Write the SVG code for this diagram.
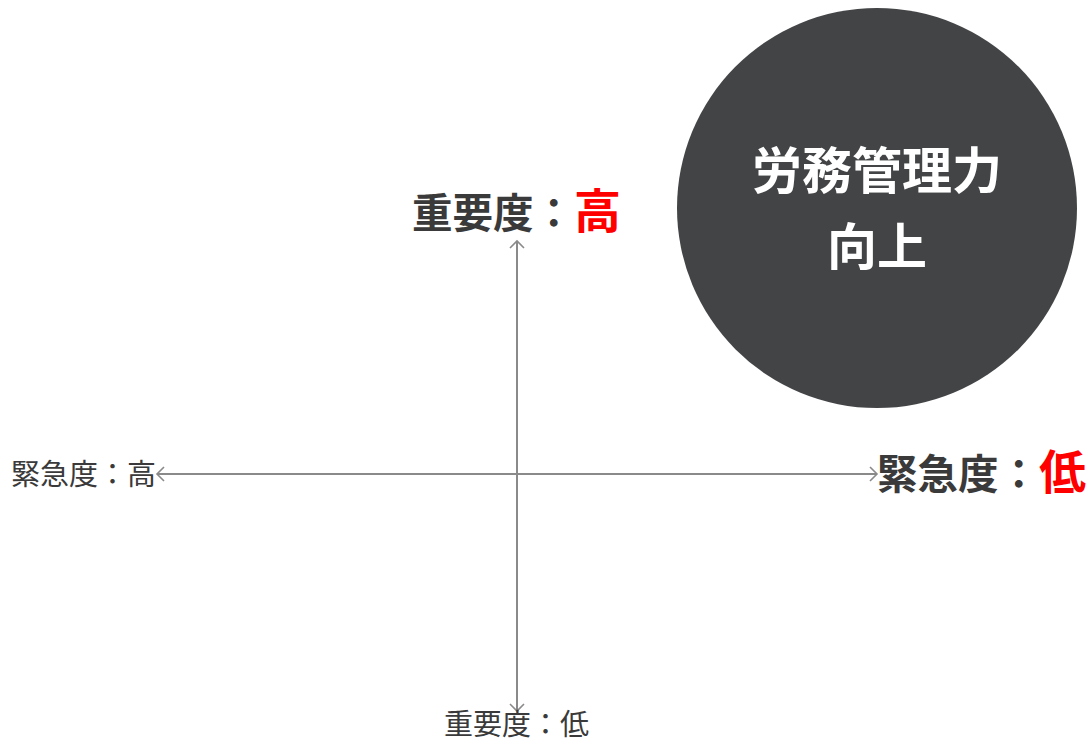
<svg xmlns="http://www.w3.org/2000/svg" width="1092" height="742" viewBox="0 0 1092 742">
<style>
text{font-family:"Noto Sans CJK JP","Noto Sans",sans-serif;}
.lbl{fill:#3a3a3a;}
.b{font-weight:bold;}
.red{fill:#ff0000;font-size:47px;}
.axis{stroke:#8a8a8a;stroke-width:2;fill:none;}
</style>
<defs>
<marker id="arr" viewBox="-9 -9 18 18" refX="0" refY="0" markerWidth="18" markerHeight="18" markerUnits="userSpaceOnUse" orient="auto-start-reverse">
<path d="M-7,-7 L0,0 L-7,7" fill="none" stroke="#8a8a8a" stroke-width="1.6"/>
</marker>
</defs>
<rect width="1092" height="742" fill="#ffffff"/>
<g id="connectors">
<line class="axis" x1="517" y1="711" x2="517" y2="241" marker-start="url(#arr)" marker-end="url(#arr)"/>
<line class="axis" x1="157" y1="474" x2="877" y2="474" marker-start="url(#arr)" marker-end="url(#arr)"/>
</g>
<g id="goal">
<circle cx="877" cy="208" r="200" fill="#434446"/>
<text x="877" y="189" text-anchor="middle" font-size="50" font-weight="bold" fill="#ffffff">労務管理力</text>
<text x="877" y="265" text-anchor="middle" font-size="50" font-weight="bold" fill="#ffffff">向上</text>
</g>
<g id="top-label">
<text x="412" y="228" font-size="40.5" class="lbl b">重要度：<tspan class="red" x="574">高</tspan></text>
</g>
<g id="bottom-label">
<text x="444" y="735" font-size="29" class="lbl">重要度：低</text>
</g>
<g id="left-label">
<text x="11" y="485" font-size="29" class="lbl">緊急度：高</text>
</g>
<g id="right-label">
<text x="877" y="489" font-size="40.5" class="lbl b">緊急度：<tspan class="red" x="1039">低</tspan></text>
</g>
</svg>
